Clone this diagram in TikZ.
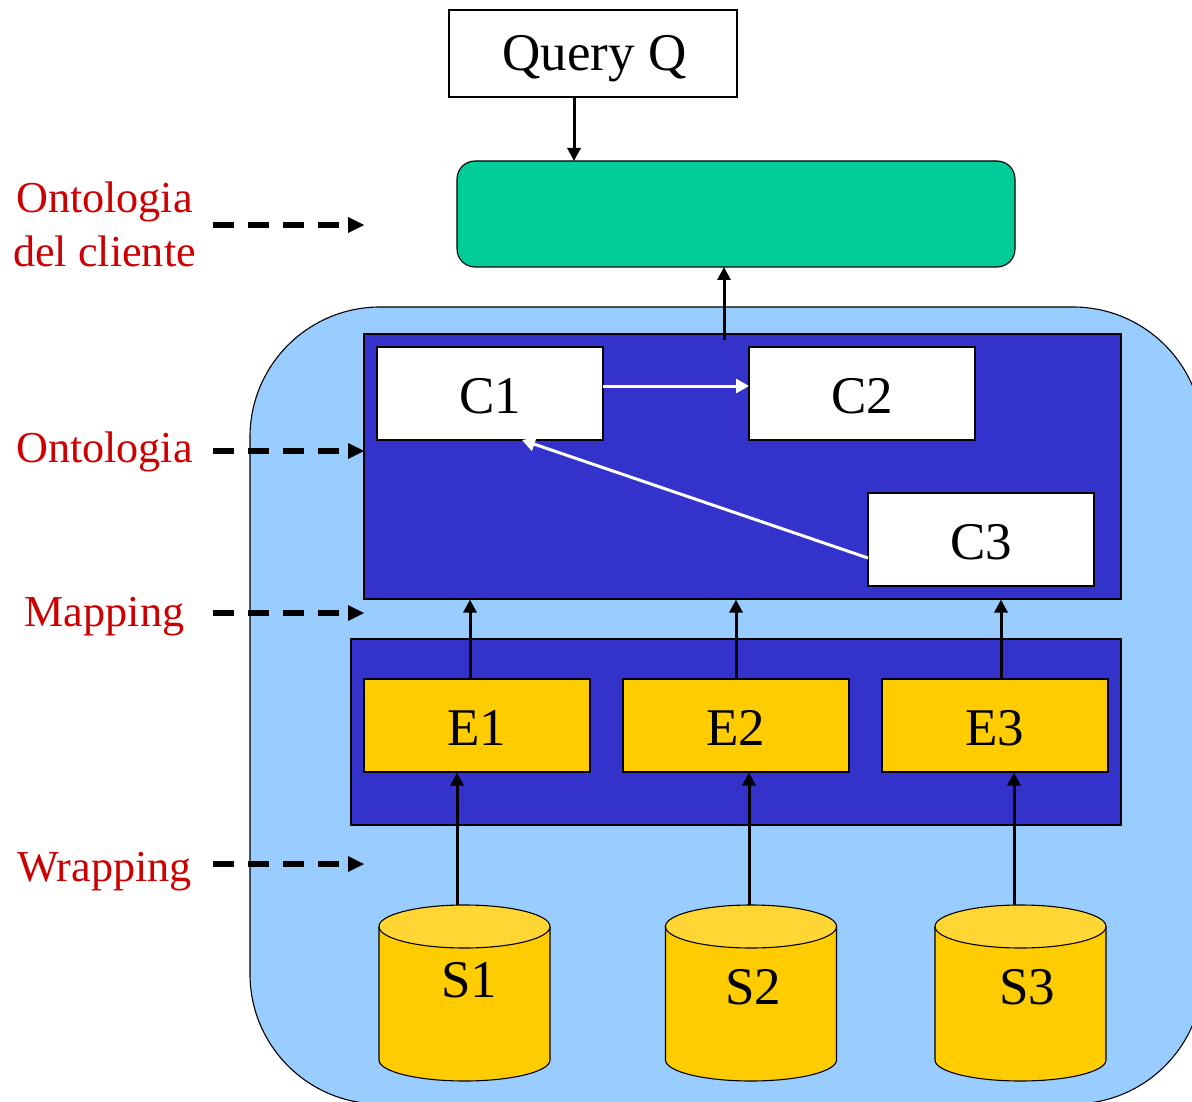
\documentclass[tikz,border=0pt]{standalone}
\usepackage{fontspec}
\setmainfont{Liberation Serif}
\usetikzlibrary{arrows.meta}
\definecolor{skyb}{HTML}{99CCFF}
\definecolor{deepb}{HTML}{3333CC}
\definecolor{greenb}{HTML}{00CC99}
\definecolor{goldb}{HTML}{FFCC00}
\definecolor{goldtop}{HTML}{FFD633}
\definecolor{redt}{HTML}{CC0000}
\tikzset{
  x=1pt,y=-1pt,
  outl/.style={draw=black,line width=1.1pt},
  box/.style={outl,inner sep=0pt,font=\fontsize{53}{53}\selectfont,text=black,text height=39pt,text depth=0pt},
  cbox/.style={box,fill=white,minimum width=226pt,minimum height=93pt},
  ebox/.style={box,fill=goldb,minimum width=226pt,minimum height=93pt},
  panel/.style={outl,fill=deepb,inner sep=0pt},
  side/.style={font=\fontsize{44.2}{53}\selectfont,text=redt,align=center,inner sep=0pt,anchor=base},
  stxt/.style={font=\fontsize{53}{53}\selectfont,inner sep=0pt,anchor=base},
  arr/.style={line width=3pt,-{Triangle[length=13pt,width=13pt]}},
  warr/.style={draw=white,line width=3pt,-{Triangle[length=13pt,width=14pt,fill=white]}},
  darr/.style={line width=6pt,dash pattern=on 21pt off 14pt},
  dhead/.style={fill=black,draw=none}
}
\newcommand{\dbcyl}[2]{%
  \path[outl,fill=goldb] (#1-85.5,927) -- (#1-85.5,1060) arc[start angle=180,end angle=360,x radius=85.5pt,y radius=21pt] -- (#1+85.5,927) -- cycle;
  \path[outl,fill=goldtop] (#1,926.5) ellipse[x radius=85.5pt,y radius=21.5pt];
  \coordinate (#2) at (#1,905);
}
\newcommand{\dashline}[2]{%
  \coordinate (#2a) at (213,#1);
  \coordinate (#2b) at (348,#1);
  \draw[darr] (#2a) -- (#2b);
  \fill[dhead] (#2b) ++(0,-8) -- ++(16,8) -- ++(-16,8) -- cycle;
}
\begin{document}
\begin{tikzpicture}
\useasboundingbox (0,0) rectangle (1192,1102);
\clip (0,0) rectangle (1192,1102);
% outer pale blue area (runs off the page)
\draw[outl,fill=skyb,rounded corners=130pt] (250,307) rectangle (1203,1104);
% panels
\node[box,fill=white,text height=35pt,minimum width=288pt,minimum height=87pt] (Q) at (593,53.5) {\hspace*{3pt}Query Q};
\draw[outl,fill=greenb,rounded corners=18pt] (457,161) rectangle (1015,267);
\coordinate (Gb) at (724,267);
\coordinate (Gt) at (574,161);
\node[panel,minimum width=757pt,minimum height=265pt] (O) at (742.5,466.5) {};
\node[panel,minimum width=770pt,minimum height=186pt] (M) at (736,732) {};
% concept boxes
\node[cbox] (C1) at (490,393.5) {C1};
\node[cbox] (C2) at (862,393.5) {C2};
\node[cbox] (C3) at (981,539.5) {C3};
% extraction boxes
\node[ebox] (E1) at (477,725.5) {E1};
\node[ebox] (E2) at (736,725.5) {E2};
\node[ebox] (E3) at (995,725.5) {E3};
% sources
\dbcyl{464.5}{Sa}
\dbcyl{751}{Sb}
\dbcyl{1020.5}{Sc}
\node[stxt] (S1) at (469,997) {S1};
\node[stxt] (S2) at (753.5,1004) {S2};
\node[stxt] (S3) at (1027,1004) {S3};
% connectors
\draw[arr] (Q.south -| Gt) -- (Gt);
\coordinate (Ot) at (724,340);
\draw[arr] (Ot) -- (Gb);
\coordinate (x1) at (470,0); \coordinate (x2) at (736,0); \coordinate (x3) at (1001,0);
\draw[arr] (x1 |- E1.north) -- (x1 |- O.south);
\draw[arr] (x2 |- E2.north) -- (x2 |- O.south);
\draw[arr] (x3 |- E3.north) -- (x3 |- O.south);
\coordinate (y1) at (457,0); \coordinate (y2) at (749,0); \coordinate (y3) at (1014,0);
\draw[arr] (y1 |- Sa) -- (y1 |- E1.south);
\draw[arr] (y2 |- Sb) -- (y2 |- E2.south);
\draw[arr] (y3 |- Sc) -- (y3 |- E3.south);
\coordinate (c1r) at (603,386); \coordinate (c2l) at (749,386);
\draw[warr] (c1r) -- (c2l);
\coordinate (c3l) at (868,558); \coordinate (c1b) at (522,440);
\draw[warr] (c3l) -- (c1b);
% side labels
\node[side] (L1) at (104.5,213) {Ontologia};
\node[side] (L1b) at (104.5,266) {del cliente};
\node[side] (L2) at (104.5,462) {Ontologia};
\node[side] (L3) at (104.5,626) {Mapping};
\node[side] (L4) at (104.5,881) {Wrapping};
\dashline{225}{da}
\dashline{451}{db}
\dashline{613}{dc}
\dashline{864}{dd}
\end{tikzpicture}
\end{document}
